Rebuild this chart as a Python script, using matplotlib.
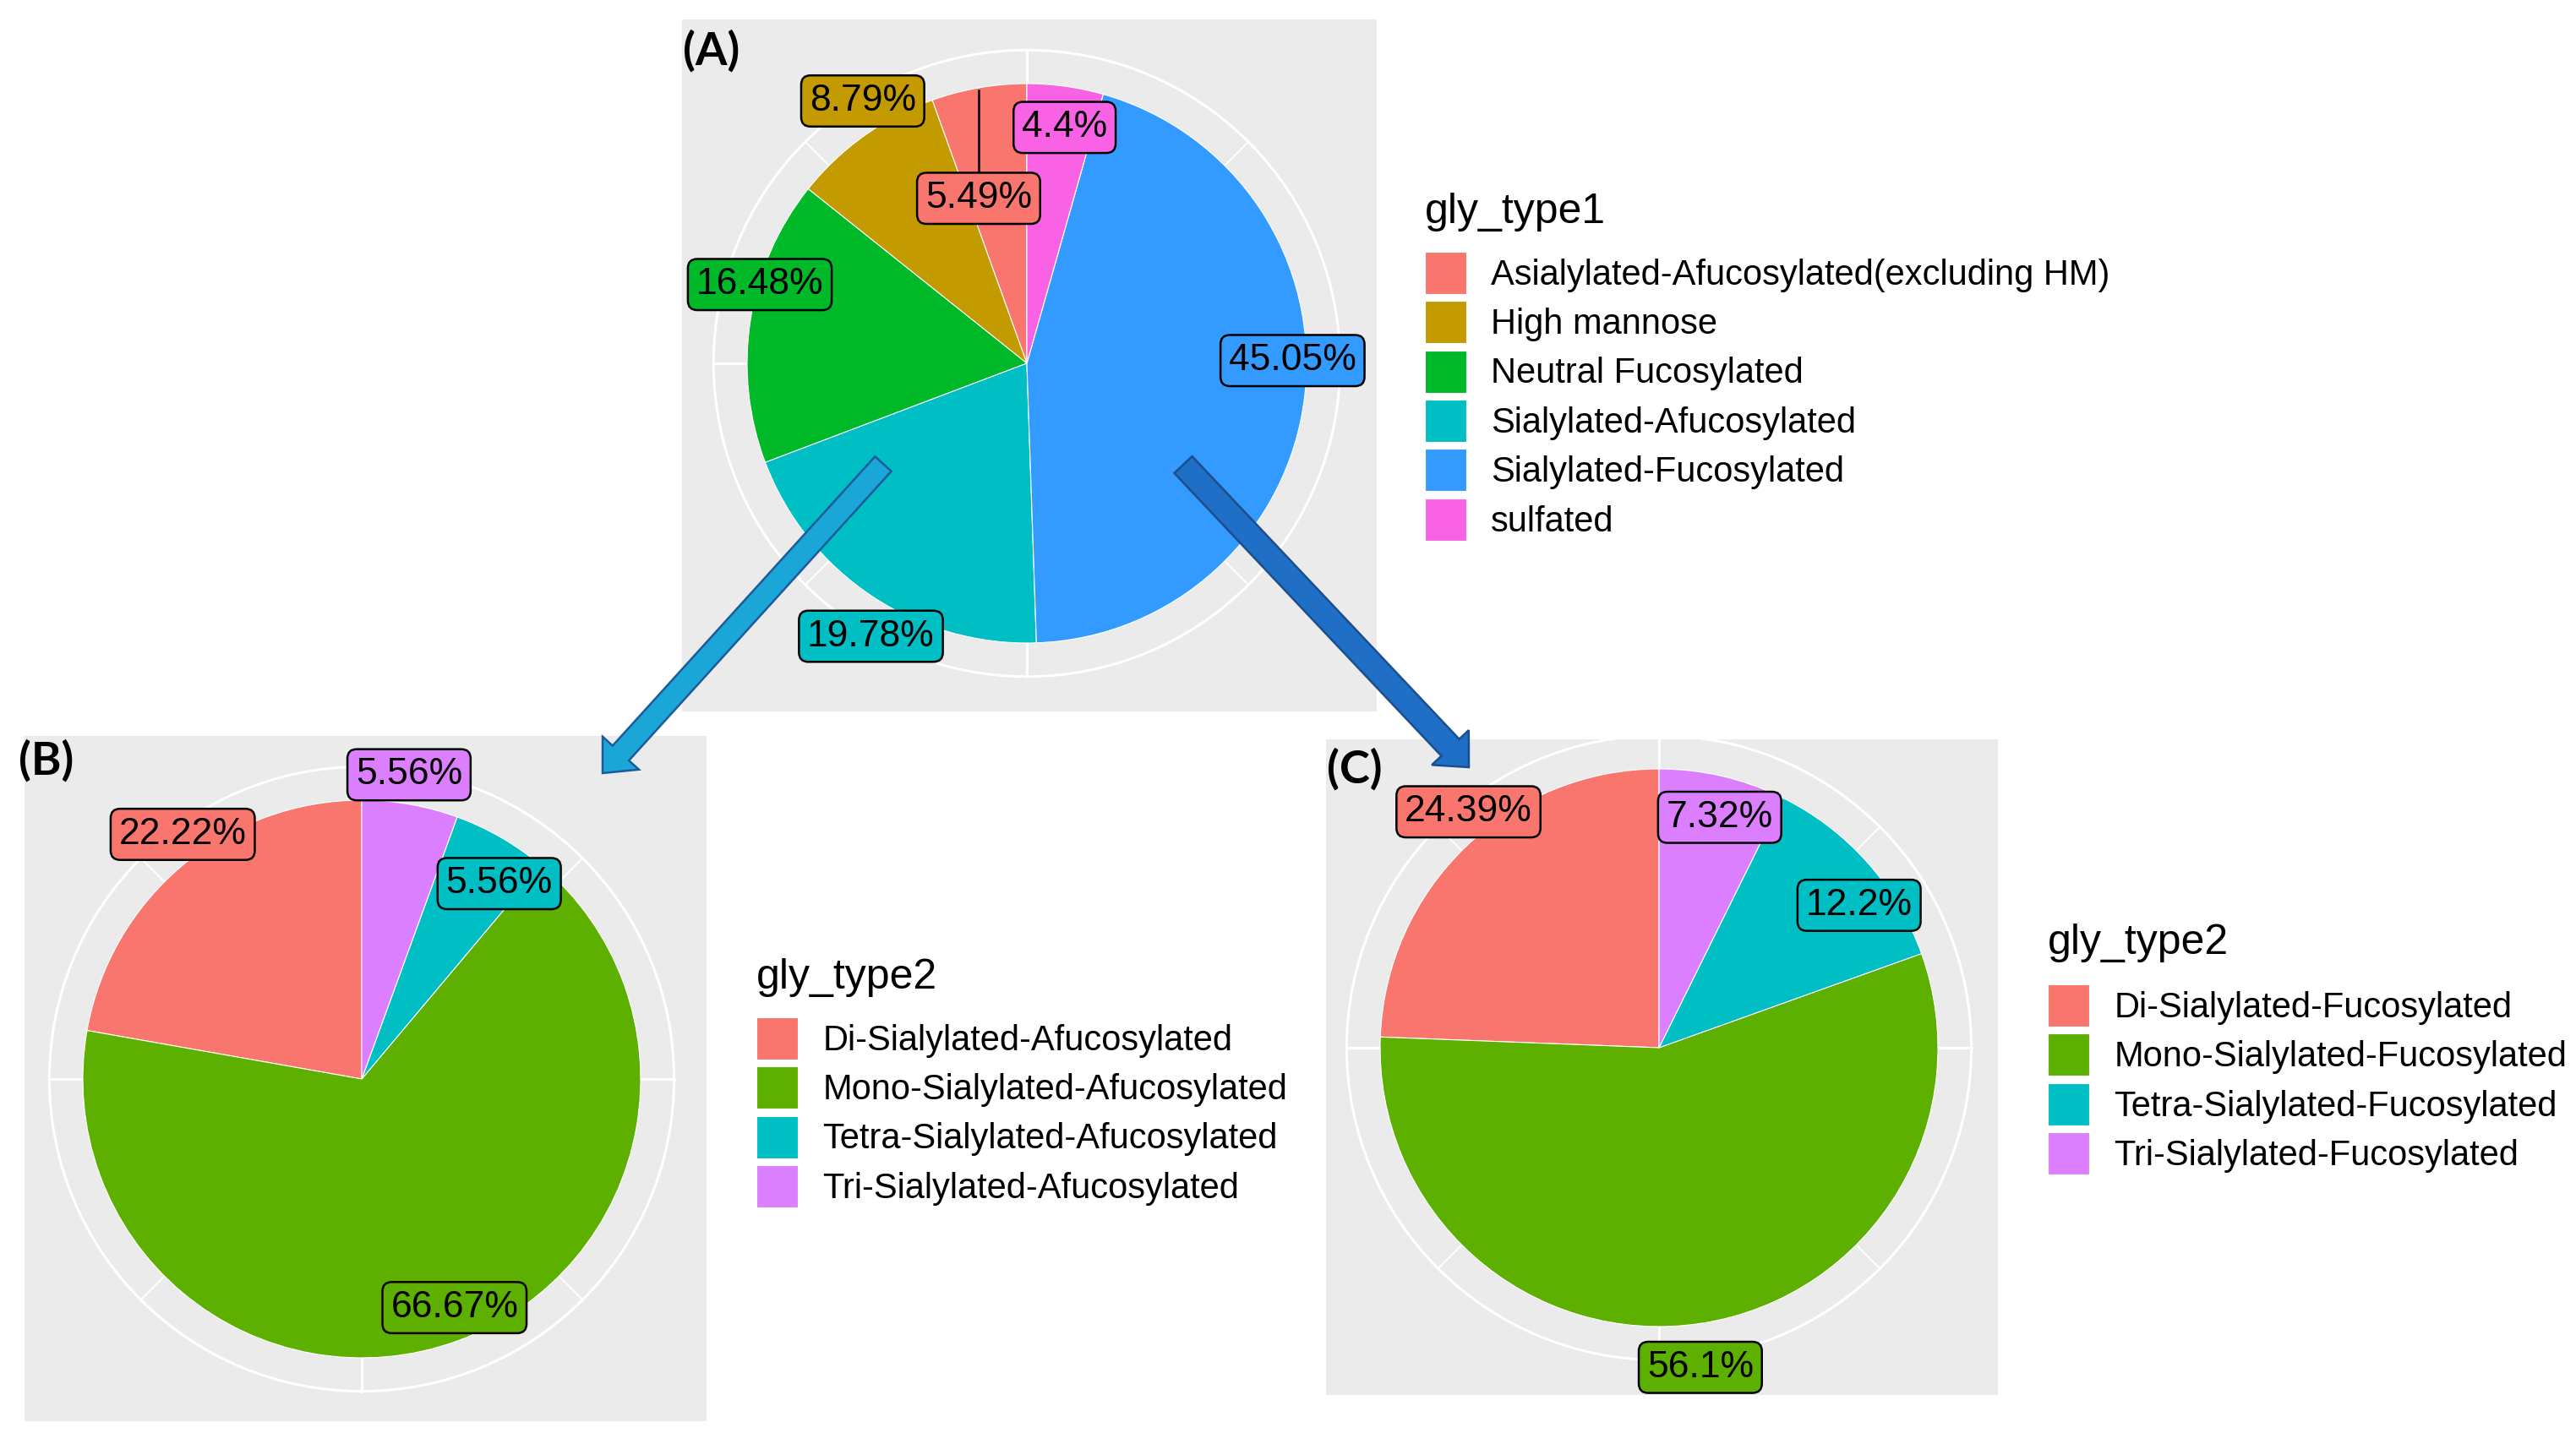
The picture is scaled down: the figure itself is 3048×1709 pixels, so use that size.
import matplotlib.pyplot as plt
import numpy as np
from matplotlib.patches import Circle, FancyArrow

plt.rcParams["font.family"] = ["Liberation Sans", "DejaVu Sans"]

W, H = 3048, 1709

# panel (A)
labels_a = [
    "Asialylated-Afucosylated(excluding HM)",
    "High mannose",
    "Neutral Fucosylated",
    "Sialylated-Afucosylated",
    "Sialylated-Fucosylated",
    "sulfated",
]
pct_a = [5.49, 8.79, 16.48, 19.78, 45.05, 4.4]
colors_a = ["#F8766D", "#C39A00", "#00B929", "#00BFC4", "#339BFF", "#FA62E6"]

# panel (B)
labels_b = [
    "Di-Sialylated-Afucosylated",
    "Mono-Sialylated-Afucosylated",
    "Tetra-Sialylated-Afucosylated",
    "Tri-Sialylated-Afucosylated",
]
pct_b = [22.22, 66.67, 5.56, 5.56]

# panel (C)
labels_c = [
    "Di-Sialylated-Fucosylated",
    "Mono-Sialylated-Fucosylated",
    "Tetra-Sialylated-Fucosylated",
    "Tri-Sialylated-Fucosylated",
]
pct_c = [24.39, 56.1, 12.2, 7.32]
colors_bc = ["#F8766D", "#5DAF00", "#00BFC4", "#DB7FFF"]

# label placement: radius (fraction of pie radius) and nudge from slice middle (deg)
lab_r_a = [0.63, 1.12, 1.0, 1.11, 0.95, 0.87]
lab_da_a = [6, -4, -8.4, 3.5, 8.5, -1]
lab_r_b = [1.10, 0.87, 0.87, 1.12]
lab_da_b = [-4.3, 2.5, -4.5, 1.3]
lab_r_c = [1.10, 1.14, 0.89, 0.87]
lab_da_c = [-5.5, -1.3, -5.4, -1.3]

fig = plt.figure(figsize=(W / 100, H / 100), dpi=100)
fig.patch.set_facecolor("white")


def draw_panel(rect, center, rad, pct, colors, lab_r, lab_da, leader=None):
    x0, y0, x1, y1 = rect
    cx, cy = center
    ax = fig.add_axes([x0 / W, 1 - y1 / H, (x1 - x0) / W, (y1 - y0) / H])
    wedges, _ = ax.pie(
        pct,
        colors=colors,
        startangle=90,
        counterclock=True,
        radius=1,
        frame=True,
        wedgeprops=dict(edgecolor="white", linewidth=0.8, zorder=2),
    )
    ax.set_facecolor("#EBEBEB")
    ax.set_aspect("auto")
    ax.set_xlim((x0 - cx) / rad, (x1 - cx) / rad)
    ax.set_ylim((cy - y1) / rad, (cy - y0) / rad)
    ax.set_xticks([])
    ax.set_yticks([])
    for s in ax.spines.values():
        s.set_visible(False)

    # polar grid
    r_out = 1.12
    ax.add_patch(Circle((0, 0), r_out, fill=False, ec="white", lw=2.2, zorder=0.5))
    for k, ang in enumerate(np.arange(0, 360, 45)):
        t = np.deg2rad(ang)
        ax.plot([0, r_out * np.cos(t)], [0, r_out * np.sin(t)], color="white",
                lw=2.2 if k % 2 == 0 else 1.4, zorder=0.5)

    frac = np.array(pct) / np.sum(pct)
    mids = 90 + 360 * (np.cumsum(frac) - frac / 2)
    for i, v in enumerate(pct):
        t = np.deg2rad(mids[i] + lab_da[i])
        lx, ly = lab_r[i] * np.cos(t), lab_r[i] * np.sin(t) - 0.016
        if leader == i:
            tm = np.deg2rad(mids[i])
            ax.plot([lx, lx], [ly, np.sin(tm) * 0.99], color="black", lw=1.8, zorder=4)
        ax.text(lx, ly, f"{v:g}%", ha="center", va="center", fontsize=32, zorder=6,
                clip_on=False,
                bbox=dict(boxstyle="round,pad=0.22,rounding_size=0.25", fc=colors[i],
                          ec="black", lw=1.8))
    return wedges


w_a = draw_panel((807, 23, 1629, 842), (1215, 430), 331, pct_a, colors_a,
                 lab_r_a, lab_da_a, leader=0)
w_b = draw_panel((29, 871, 836, 1682), (428, 1277), 330, pct_b, colors_bc,
                 lab_r_b, lab_da_b)
w_c = draw_panel((1569, 875, 2364, 1651), (1963, 1240), 330, pct_c, colors_bc,
                 lab_r_c, lab_da_c)


def add_legend(handles, labels, title, x, y_title, y_top):
    fig.text(x / W, 1 - y_title / H, title, fontsize=36, ha="left", va="center")
    fig.legend(handles, labels, loc="upper left", bbox_to_anchor=(x / W, 1 - y_top / H),
               frameon=False, fontsize=30, handlelength=1.18, handleheight=1.47,
               handletextpad=0.7, labelspacing=0.2, borderpad=0, borderaxespad=0)


add_legend(w_a, labels_a, "gly_type1", 1686, 251, 298)
add_legend(w_b, labels_b, "gly_type2", 895, 1157, 1204)
add_legend(w_c, labels_c, "gly_type2", 2423, 1116, 1165)

# panel letters
for txt, px, py in [("(A)", 808, 60), ("(B)", 22, 900), ("(C)", 1570, 910)]:
    fig.text(px / W, 1 - py / H, txt, fontsize=39, fontweight="bold",
             family=["Lato", "DejaVu Sans"], ha="left", va="center")

# arrows linking the panels
ov = fig.add_axes([0, 0, 1, 1], zorder=10)
ov.set_xlim(0, W)
ov.set_ylim(H, 0)
ov.axis("off")
ov.add_patch(FancyArrow(1045, 549, 713 - 1045, 915 - 549, width=26, head_width=58,
                        head_length=32, length_includes_head=True,
                        fc="#1AA6D6", ec="#1D5A9A", lw=1.8))
ov.add_patch(FancyArrow(1400, 550, 1738 - 1400, 908 - 550, width=29, head_width=60,
                        head_length=32, length_includes_head=True,
                        fc="#1F6FC6", ec="#1B4E8C", lw=1.8))

fig.savefig("out.png", dpi=100)
